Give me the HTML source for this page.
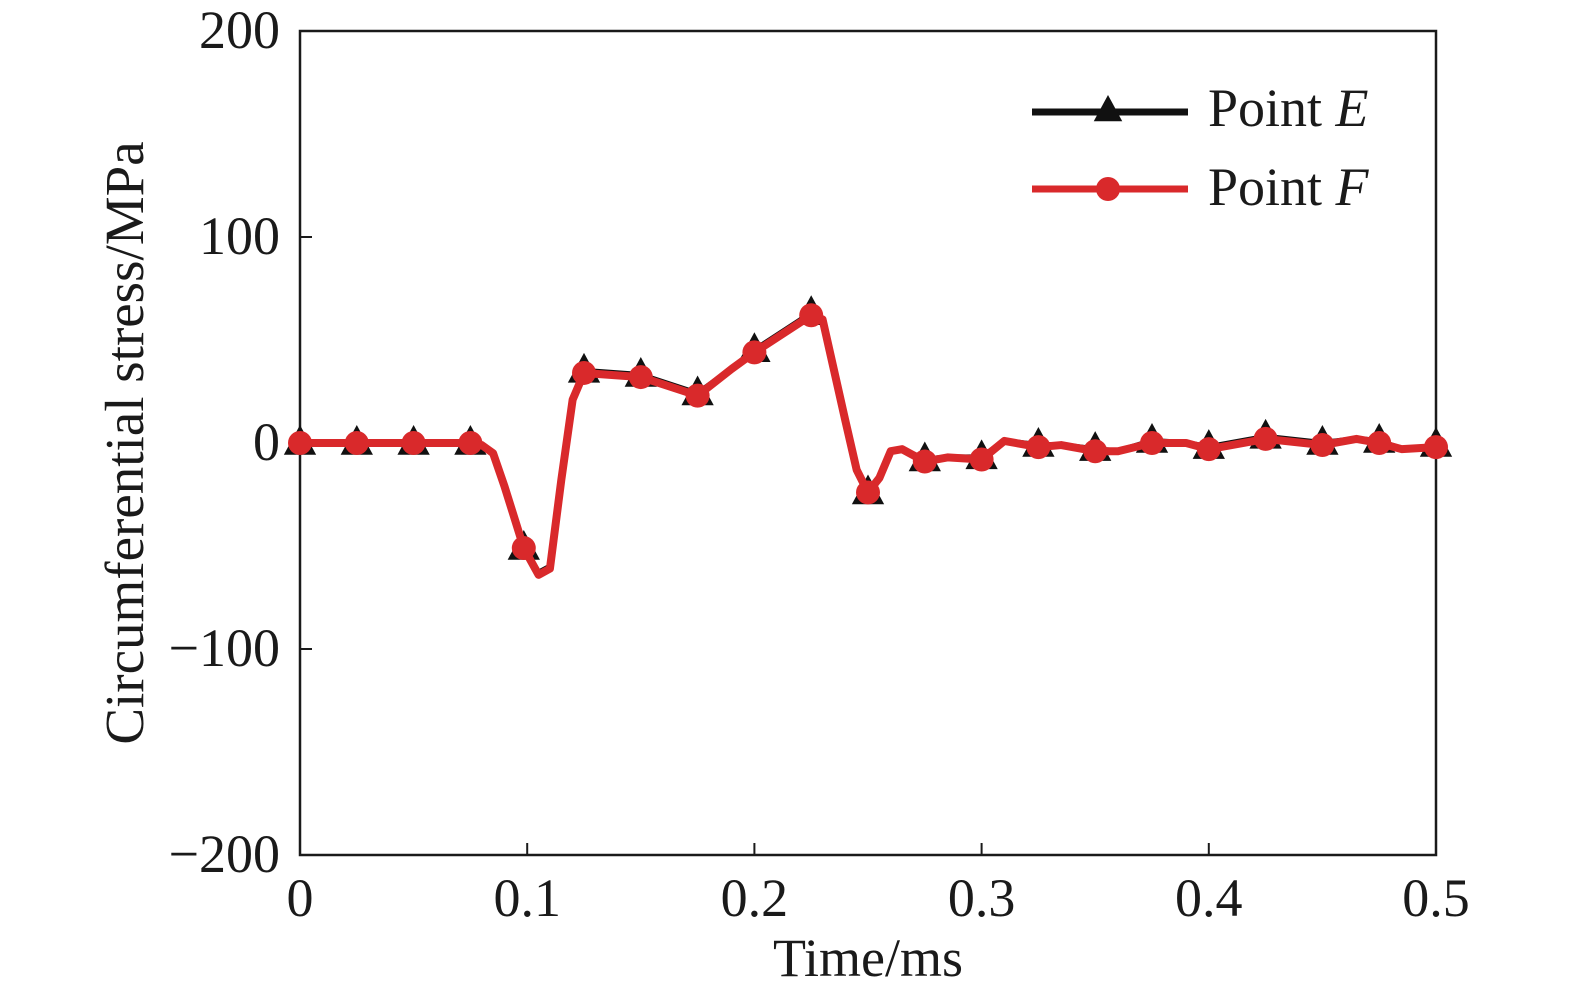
<!DOCTYPE html>
<html><head><meta charset="utf-8"><style>
body{margin:0;background:#fff}
svg text{font-family:"Liberation Serif",serif;fill:#1a1a1a}
</style></head><body>
<svg id="chart" width="1575" height="994" viewBox="0 0 1575 994" xmlns="http://www.w3.org/2000/svg">
</svg>
<script>
const xTicks=[0,0.1,0.2,0.3,0.4,0.5];
const xTickLabels=["0","0.1","0.2","0.3","0.4","0.5"];
const yTicks=[200,100,0,-100,-200];
const yTickLabels=["200","100","0","\u2212100","\u2212200"];
const timesF=[0,0.025,0.05,0.075,0.08,0.085,0.09,0.0985,0.105,0.11,0.115,0.12,0.125,0.15,0.175,0.19,0.2,0.225,0.23,0.24,0.245,0.25,0.255,0.26,0.265,0.275,0.285,0.3,0.31,0.325,0.335,0.35,0.36,0.375,0.39,0.4,0.425,0.45,0.465,0.475,0.485,0.5];
const valuesF=[0,0,0,0,-1,-5,-21,-51,-64,-61,-18,21,34,32,23,36,44,62,60,11,-13,-24,-17,-4,-3,-9,-7,-8,1,-2,-1,-4,-4,0,0,-3,2,-1,2,0,-3,-2];
const valuesE=[0,0,0,0,-1,-5,-21,-51,-63,-60,-18,21,35,33,24,36,45,63,60,11,-13,-24,-17,-4,-3,-8,-7,-7,1,-1,-1,-3,-4,1,0,-2,3,0,2,1,-3,-2];
const markerTimes=[0,0.025,0.05,0.075,0.0985,0.125,0.15,0.175,0.2,0.225,0.25,0.275,0.3,0.325,0.35,0.375,0.4,0.425,0.45,0.475,0.5];
const markersE=[0,0,0,0,-51,35,33,24,45,63,-24,-8,-7,-1,-3,1,-2,3,0,1,-1];
const markersF=[0,0,0,0,-51,34,32,23,44,62,-24,-9,-8,-2,-4,0,-3,2,-1,0,-2];
const X0=300,X1=1436,Y0=31,Y1=855;
const sx=t=>X0+(t-0)/(0.5)*(X1-X0);
const sy=v=>Y0+(200-v)/400*(Y1-Y0);
const NS="http://www.w3.org/2000/svg";
const svg=document.getElementById('chart');
function mk(tag,attrs,parent){const e=document.createElementNS(NS,tag);for(const k in attrs)e.setAttribute(k,attrs[k]);(parent||svg).appendChild(e);return e;}
let fr=mk('rect',{x:X0,y:Y0,width:X1-X0,height:Y1-Y0,fill:'none',stroke:'#1a1a1a','stroke-width':2.5});


xTicks.forEach((t,i)=>{
 let l=mk('line',{x1:sx(t),x2:sx(t),y1:Y1,y2:Y1-12,stroke:'#1a1a1a','stroke-width':2});
 
 
 let tx=mk('text',{x:sx(t),y:916,'font-size':54,'text-anchor':'middle'});tx.textContent=xTickLabels[i];
 
 
});
yTicks.forEach((v,i)=>{
 let l=mk('line',{x1:X0,x2:X0+12,y1:sy(v),y2:sy(v),stroke:'#1a1a1a','stroke-width':2});
 
 
 let tx=mk('text',{x:280,y:sy(v)+17,'font-size':54,'text-anchor':'end'});tx.textContent=yTickLabels[i];
 
 
});
let xt=mk('text',{x:868,y:976,'font-size':54,'text-anchor':'middle'});xt.textContent='Time/ms';


let yt=mk('text',{x:0,y:0,'font-size':55,'text-anchor':'middle',transform:'translate(143,443) rotate(-90)'});yt.textContent='Circumferential stress/MPa';


let pe=mk('polyline',{points:timesF.map((t,i)=>sx(t)+','+sy(valuesE[i])).join(' '),fill:'none',stroke:'#111','stroke-width':6,'stroke-linejoin':'round'});


function tri(x,y,s){return `${x},${y-s} ${x-s*0.95},${y+s*0.75} ${x+s*0.95},${y+s*0.75}`;}
markerTimes.forEach((t,i)=>{
 let m=mk('polygon',{points:tri(sx(t),sy(markersE[i])-1,17),fill:'#111'});
 
 
});
let pf=mk('polyline',{points:timesF.map((t,i)=>sx(t)+','+sy(valuesF[i])).join(' '),fill:'none',stroke:'#d9292b','stroke-width':8,'stroke-linejoin':'round'});


markerTimes.forEach((t,i)=>{
 let c=mk('circle',{cx:sx(t),cy:sy(markersF[i]),r:12,fill:'#d9292b'});
 
 
});
let lg=mk('g',{});


let l1=mk('line',{x1:1032,x2:1188,y1:112,y2:112,stroke:'#111','stroke-width':7},lg);


let m1=mk('polygon',{points:tri(1108,110,15),fill:'#111'},lg);


let t1=mk('text',{x:1208,y:126,'font-size':54},lg);t1.innerHTML='Point <tspan font-style="italic">E</tspan>';


let l2=mk('line',{x1:1032,x2:1188,y1:189,y2:189,stroke:'#d9292b','stroke-width':7},lg);


let m2=mk('circle',{cx:1108,cy:189,r:12,fill:'#d9292b'},lg);


let t2=mk('text',{x:1208,y:205,'font-size':54},lg);t2.innerHTML='Point <tspan font-style="italic">F</tspan>';


</script>
</body></html>
